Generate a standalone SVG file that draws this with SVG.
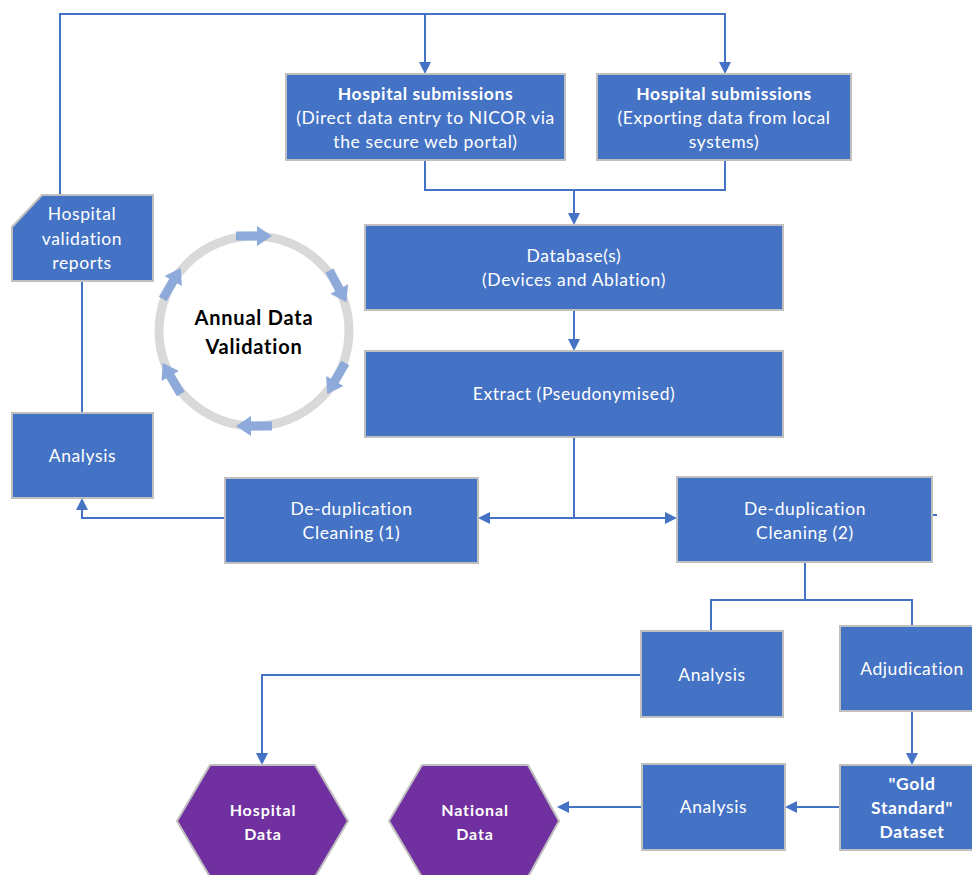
<svg xmlns="http://www.w3.org/2000/svg" width="972" height="875" viewBox="0 0 972 875">
<defs>
<style>
.box{fill:#4472c4;stroke:#bfbfbf;stroke-width:2}
.hex{fill:#7030a0;stroke:#bfbfbf;stroke-width:2}
.t{font-family:Lato,"Open Sans",sans-serif;font-size:17.5px;letter-spacing:0.6px;fill:#fff;text-anchor:middle}
.b{font-weight:bold}
.ln{fill:none;stroke:#4472c4;stroke-width:2}
.ca{fill:#8eaadb}
</style>
<marker id="ah" markerWidth="12" markerHeight="12" refX="10" refY="6" orient="auto" markerUnits="userSpaceOnUse">
<path d="M0,0 L12,6 L0,12 Z" fill="#4472c4"/>
</marker>
<polygon id="carrow" points="-18,-4.5 3,-4.5 3,-10 18,0 3,10 3,4.5 -18,4.5"/>
</defs>
<rect width="972" height="875" fill="#fff"/>

<g id="connectors">
<polyline class="ln" points="60,195 60,14 725,14 725,72" marker-end="url(#ah)"/>
<line class="ln" x1="425" y1="14" x2="425" y2="72" marker-end="url(#ah)"/>
<polyline class="ln" points="425,160 425,190 725,190 725,160"/>
<line class="ln" x1="574" y1="190" x2="574" y2="223" marker-end="url(#ah)"/>
<line class="ln" x1="574" y1="310" x2="574" y2="349" marker-end="url(#ah)"/>
<line class="ln" x1="574" y1="437" x2="574" y2="518"/>
<line class="ln" x1="574" y1="518" x2="480" y2="518" marker-end="url(#ah)"/>
<line class="ln" x1="574" y1="518" x2="675" y2="518" marker-end="url(#ah)"/>
<polyline class="ln" points="225,518 82,518 82,500" marker-end="url(#ah)"/>
<line class="ln" x1="82" y1="413" x2="82" y2="281"/>
<line class="ln" x1="932" y1="515" x2="937" y2="515"/>
<polyline class="ln" points="805,562 805,600"/>
<polyline class="ln" points="711,631 711,600 912,600 912,626"/>
<polyline class="ln" points="641,675 262,675 262,763" marker-end="url(#ah)"/>
<line class="ln" x1="912" y1="711" x2="912" y2="763" marker-end="url(#ah)"/>
<line class="ln" x1="840" y1="807" x2="787" y2="807" marker-end="url(#ah)"/>
<line class="ln" x1="642" y1="807" x2="559" y2="807" marker-end="url(#ah)"/>
</g>

<g id="hs1"><rect class="box" x="286" y="74" width="279" height="86"/>
<text class="t" x="425.5" y="100"><tspan class="b">Hospital submissions</tspan><tspan x="425.5" dy="24">(Direct data entry to NICOR via</tspan><tspan x="425.5" dy="24">the secure web portal)</tspan></text></g>

<g id="hs2"><rect class="box" x="597" y="74" width="254" height="86"/>
<text class="t" x="724" y="100"><tspan class="b">Hospital submissions</tspan><tspan x="724" dy="24">(Exporting data from local</tspan><tspan x="724" dy="24">systems)</tspan></text></g>

<g id="db"><rect class="box" x="365" y="225" width="418" height="85"/>
<text class="t" x="574" y="262">Database(s)<tspan x="574" dy="24">(Devices and Ablation)</tspan></text></g>

<g id="extract"><rect class="box" x="365" y="351" width="418" height="86"/>
<text class="t" x="574" y="400">Extract (Pseudonymised)</text></g>

<g id="hvr"><path class="box" d="M42,195 L153,195 L153,281 L12,281 L12,227 Z"/>
<text class="t" x="82" y="220">Hospital<tspan x="82" dy="25">validation</tspan><tspan x="82" dy="24">reports</tspan></text></g>

<g id="analysis1"><rect class="box" x="12" y="413" width="141" height="85"/>
<text class="t" x="82.5" y="462">Analysis</text></g>

<g id="cycle">
<circle cx="254" cy="331" r="95" fill="none" stroke="#d9d9d9" stroke-width="9"/>
<use href="#carrow" class="ca" transform="translate(254,331) rotate(0) translate(0,-95)"/>
<use href="#carrow" class="ca" transform="translate(254,331) rotate(62) translate(0,-95)"/>
<use href="#carrow" class="ca" transform="translate(254,331) rotate(120) translate(0,-95)"/>
<use href="#carrow" class="ca" transform="translate(254,331) rotate(180) translate(0,-95)"/>
<use href="#carrow" class="ca" transform="translate(254,331) rotate(240) translate(0,-95)"/>
<use href="#carrow" class="ca" transform="translate(254,331) rotate(300) translate(0,-95)"/>
<text class="t b" x="254" y="325" style="fill:#000;font-size:20px;letter-spacing:0.8px">Annual Data<tspan x="254" dy="29">Validation</tspan></text>
</g>

<g id="dd1"><rect class="box" x="225" y="478" width="253" height="85"/>
<text class="t" x="351.5" y="515">De-duplication<tspan x="351.5" dy="24">Cleaning (1)</tspan></text></g>

<g id="dd2"><rect class="box" x="677" y="477" width="255" height="85"/>
<text class="t" x="805" y="515">De-duplication<tspan x="805" dy="24">Cleaning (2)</tspan></text></g>

<g id="analysis2"><rect class="box" x="641" y="631" width="142" height="86"/>
<text class="t" x="712" y="681">Analysis</text></g>

<g id="adjudication"><rect class="box" x="840" y="626" width="134" height="85"/>
<text class="t" x="912" y="675">Adjudication</text></g>

<g id="gold"><rect class="box" x="840" y="765" width="134" height="85"/>
<text class="t b" x="912" y="790">"Gold<tspan x="912" dy="24">Standard"</tspan><tspan x="912" dy="24">Dataset</tspan></text></g>

<g id="analysis3"><rect class="box" x="642" y="764" width="143" height="86"/>
<text class="t" x="713.5" y="813">Analysis</text></g>

<g id="hospdata"><polygon class="hex" points="210,765 315,765 348,821 315,877 210,877 177,821"/>
<text class="t b" x="263" y="816" style="font-size:16px;letter-spacing:0.9px">Hospital<tspan x="263" dy="24">Data</tspan></text></g>

<g id="natdata"><polygon class="hex" points="422,765 528,765 559,821 528,877 422,877 389,821"/>
<text class="t b" x="475" y="816" style="font-size:16px;letter-spacing:0.9px">National<tspan x="475" dy="24">Data</tspan></text></g>
</svg>
